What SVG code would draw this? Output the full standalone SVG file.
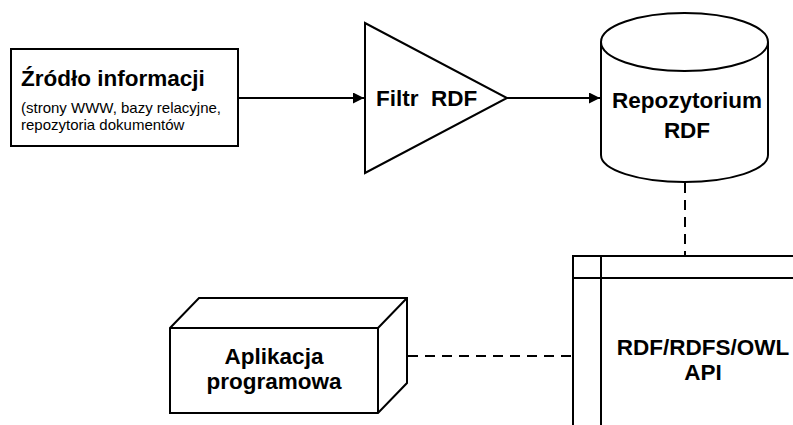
<svg xmlns="http://www.w3.org/2000/svg" width="793" height="425" viewBox="0 0 793 425">
<defs>
<style>
.s{fill:#fff;stroke:#000;stroke-width:2;stroke-linejoin:miter}
.t{font-family:"Liberation Sans",Arial,sans-serif;font-weight:bold;font-size:22.5px;fill:#000}
.r{font-family:"Liberation Sans",Arial,sans-serif;font-size:15px;fill:#000}
.c{fill:none;stroke:#000;stroke-width:2}
.d{fill:none;stroke:#000;stroke-width:2;stroke-dasharray:10,7}
</style>
<marker id="ah" viewBox="0 0 10 10" refX="10" refY="5" markerWidth="5.5" markerHeight="5.5" orient="auto" markerUnits="strokeWidth">
<path d="M0,0 L10,5 L0,10 z" fill="#000"/>
</marker>
</defs>
<rect width="793" height="425" fill="#fff"/>
<g id="connectors">
<line class="c" x1="238" y1="98" x2="364" y2="98" marker-end="url(#ah)"/>
<line class="c" x1="507" y1="98" x2="600" y2="98" marker-end="url(#ah)"/>
<line class="d" x1="685" y1="183" x2="685" y2="255" stroke-dasharray="12,6"/>
<line class="d" x1="408" y1="356" x2="573" y2="356"/>
</g>
<g id="zrodlo">
<rect class="s" x="11" y="49" width="227" height="97"/>
<text class="t" x="21" y="86" font-size="23.5">Źródło informacji</text>
<text class="r" x="21" y="113">(strony WWW, bazy relacyjne,</text>
<text class="r" x="21" y="130">repozytoria dokumentów</text>
</g>
<g id="filtr">
<polygon class="s" points="365,23 365,173 507,98"/>
<text class="t" x="376" y="106" xml:space="preserve">Filtr  RDF</text>
</g>
<g id="repozytorium">
<path class="s" d="M601,42 L601,155 A83.5,27 0 0 0 768,155 L768,42 A83.5,29 0 0 0 601,42 Z"/>
<path class="c" d="M601,42 A83.5,29 0 0 0 768,42"/>
<text class="t" x="687" y="108" text-anchor="middle">Repozytorium</text>
<text class="t" x="687" y="138" text-anchor="middle">RDF</text>
</g>
<g id="api">
<rect class="s" x="573" y="256" width="240" height="190"/>
<line class="c" x1="573" y1="278" x2="793" y2="278"/>
<line class="c" x1="601" y1="256" x2="601" y2="425"/>
<text class="t" x="703" y="355" text-anchor="middle">RDF/RDFS/OWL</text>
<text class="t" x="703" y="380" text-anchor="middle">API</text>
</g>
<g id="aplikacja">
<polygon class="s" points="170,328 199,298 407,298 407,383 378,413 170,413"/>
<path class="c" d="M170,328 L378,328 L378,413 M378,328 L407,298"/>
<text class="t" x="274" y="364" text-anchor="middle">Aplikacja</text>
<text class="t" x="274" y="389" text-anchor="middle">programowa</text>
</g>
</svg>
